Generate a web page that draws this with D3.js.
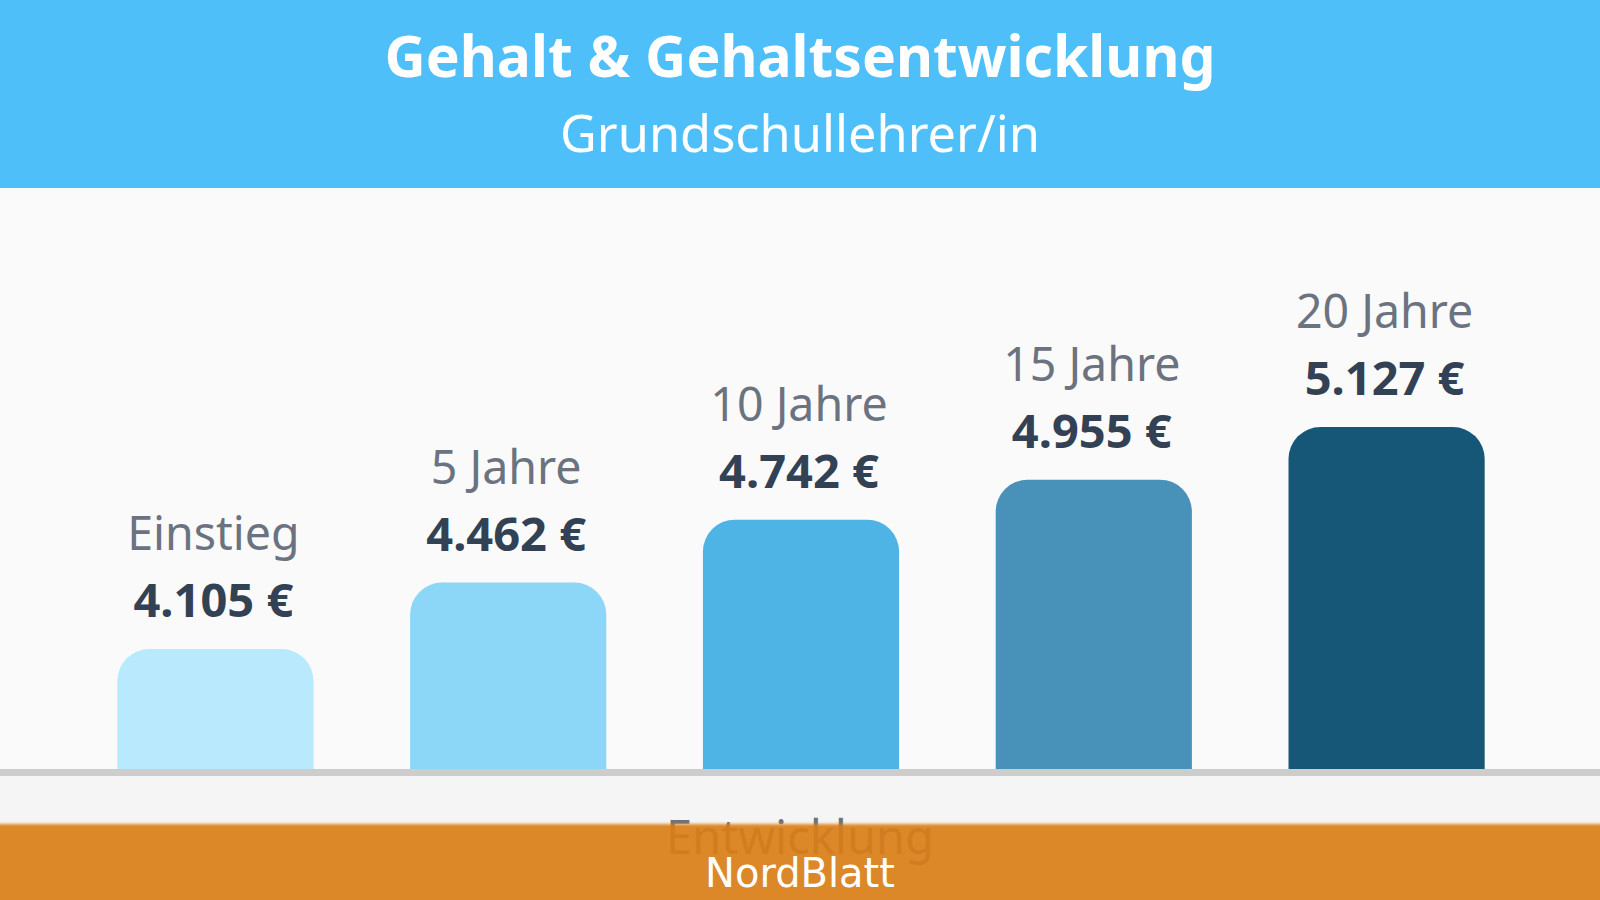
<!DOCTYPE html>
<html>
<head>
<meta charset="utf-8">
<script src="https://cdn.jsdelivr.net/npm/d3@7"></script>
<style>
  html, body { margin: 0; padding: 0; background: #fafafa; overflow: hidden; }
  text { font-family: "Noto Sans", sans-serif; }
</style>
</head>
<body>
<div id="chart"></div>
<script>
var categories = ["Einstieg", "5 Jahre", "10 Jahre", "15 Jahre", "20 Jahre"];
var salaries = [4105, 4462, 4742, 4955, 5127];
// bar height, tallest bar = 100 (not proportional to the salary)
var barLevels = [35.1, 54.5, 72.9, 84.6, 100];
var barColors = ["#b9e9fd", "#8cd6f8", "#4eb3e5", "#4891b8", "#165676"];

var svgWidth = 1600;
var svgHeight = 900;
var baseY = 769;
var topY = 427;

var svg = d3.select("#chart")
  .append("svg")
  .attr("width", svgWidth)
  .attr("height", svgHeight)
  .style("display", "block");

var defs = svg.append("defs");
defs.append("filter").attr("id", "soft")
  .attr("y", "-10%").attr("height", "120%")
  .append("feGaussianBlur").attr("stdDeviation", "0 1.5");

svg.append("rect").attr("width", svgWidth).attr("height", svgHeight).attr("fill", "#fafafa");
svg.append("rect").attr("y", baseY).attr("width", svgWidth).attr("height", svgHeight - baseY).attr("fill", "#f5f5f5");

// header
svg.append("rect").attr("width", svgWidth).attr("height", 188).attr("fill", "#4fbffa");
svg.append("text")
  .attr("x", 800).attr("y", 77)
  .attr("text-anchor", "middle")
  .attr("font-size", 57).attr("font-weight", 700).attr("fill", "#fff")
  .text("Gehalt & Gehaltsentwicklung");
svg.append("text")
  .attr("x", 800).attr("y", 152)
  .attr("text-anchor", "middle")
  .attr("font-size", 50.5).attr("fill", "#fff")
  .text("Grundschullehrer/in");

var x = d3.scaleBand()
  .domain(categories)
  .range([69, 1533])
  .paddingInner(0.33)
  .paddingOuter(0.165);

var y = d3.scaleLinear()
  .domain([0, 100])
  .range([baseY, topY]);

var radius = 32;
function barPath(d, i) {
  var x0 = x(categories[i]), x1 = x0 + x.bandwidth(), yt = y(d);
  return "M" + x0 + "," + baseY +
    "V" + (yt + radius) +
    "A" + radius + "," + radius + " 0 0 1 " + (x0 + radius) + "," + yt +
    "H" + (x1 - radius) +
    "A" + radius + "," + radius + " 0 0 1 " + x1 + "," + (yt + radius) +
    "V" + baseY + "Z";
}

svg.selectAll(".bar").data(barLevels).enter()
  .append("path")
  .attr("class", "bar")
  .attr("d", barPath)
  .attr("fill", (d, i) => barColors[i]);

// baseline
svg.append("rect").attr("y", baseY).attr("width", svgWidth).attr("height", 7).attr("fill", "#cdcdcd");

var center = i => x(categories[i]) + x.bandwidth() / 2;

svg.selectAll(".cat").data(categories).enter()
  .append("text")
  .attr("class", "cat")
  .attr("x", (d, i) => center(i) - 2)
  .attr("y", (d, i) => y(barLevels[i]) - 99)
  .attr("text-anchor", "middle")
  .attr("font-size", 46.5).attr("fill", "#6b7280")
  .text(d => d);

var fmt = d3.format(",d");
svg.selectAll(".val").data(salaries).enter()
  .append("text")
  .attr("class", "val")
  .attr("x", (d, i) => center(i) - 2)
  .attr("y", (d, i) => y(barLevels[i]) - 32)
  .attr("text-anchor", "middle")
  .attr("font-size", 47).attr("font-weight", 700).attr("fill", "#334155")
  .text(d => fmt(d).replace(",", ".") + " €");

// axis title, partly under the footer band
svg.append("text")
  .attr("x", 800).attr("y", 854)
  .attr("text-anchor", "middle")
  .attr("font-size", 47).attr("fill", "#6b7280")
  .text("Entwicklung");

svg.append("rect")
  .attr("y", 824).attr("width", svgWidth).attr("height", 90)
  .attr("fill", "#da7e1a").attr("fill-opacity", 0.92)
  .attr("filter", "url(#soft)");

svg.append("text")
  .attr("x", 800).attr("y", 887)
  .attr("text-anchor", "middle")
  .style("font-family", "'DejaVu Sans'")
  .attr("font-size", 40).attr("fill", "#fff")
  .text("NordBlatt");
</script>
</body>
</html>
